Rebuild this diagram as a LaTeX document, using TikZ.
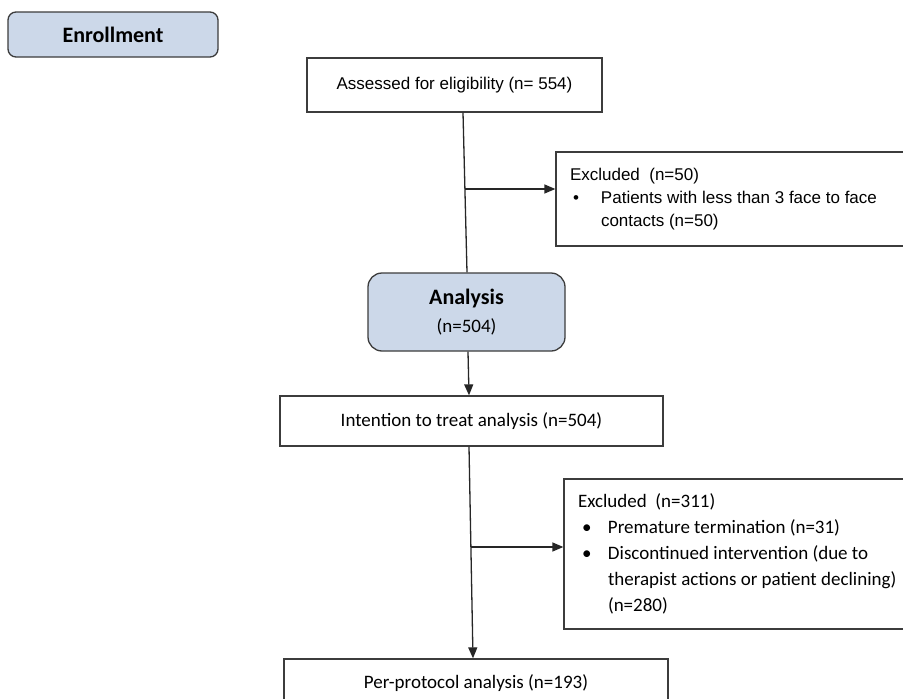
\documentclass[tikz,border=0pt]{standalone}
\usepackage{fontspec}
\setmainfont{Carlito}
\newfontfamily\arialfont{Liberation Sans}
\usetikzlibrary{arrows.meta,calc}
\definecolor{phaseblue}{HTML}{CCD8E9}
\definecolor{edgegray}{HTML}{3C3C3C}

\begin{document}
\begin{tikzpicture}[
    x=1pt, y=-1pt,
    phase/.style={draw=edgegray, line width=1.3pt, fill=phaseblue, rounded corners=14pt},
    stage/.style={draw=edgegray, line width=1.3pt, inner sep=0pt},
    exclbox/.style={stage, align=flush left, inner xsep=14pt},
    trunk/.style={line width=1.3pt, draw=black!85},
    flow/.style={trunk, -{Triangle[length=11pt,width=9pt]}},
    armfont/.style={font=\arialfont\fontsize{17}{23}\selectfont},
    calfont/.style={font=\fontsize{19}{26}\selectfont}
]
    \useasboundingbox (0,0) rectangle (903,699);

    % Phase headers
    \node[phase, rounded corners=8pt, minimum width=210pt, minimum height=45pt,
          font=\bfseries\fontsize{22}{26}\selectfont] (enroll) at (113,34.5) {Enrollment};
    \node[phase, minimum width=197pt, minimum height=78pt, calfont, align=center] (analysis) at (466.5,312)
        {{\bfseries\fontsize{22}{26}\selectfont Analysis}\\[2pt](n=504)};

    % Stages
    \node[stage, armfont, minimum width=295pt, minimum height=54pt] (assess) at (454.5,85)
        {Assessed for eligibility (n= 554)};
    \node[stage, calfont, minimum width=383pt, minimum height=50pt] (itt) at (471.5,421)
        {Intention to treat analysis (n=504)};
    \node[stage, calfont, minimum width=384pt, minimum height=48pt] (pp) at (476,683)
        {Per-protocol analysis (n=193)};

    % Exclusions
    \node[exclbox, armfont, text width=341pt, minimum height=94pt] (excla) at (740.5,199)
        {Excluded\ \ (n=50)\\
         \hspace*{3pt}\makebox[28pt][l]{\textbullet}Patients with less than 3 face to face\\
         \hspace*{31pt}contacts (n=50)};
    \node[exclbox, calfont, text width=333pt, minimum height=150pt] (exclb) at (744.5,554)
        {Excluded\ \ (n=311)\\
         \hspace*{4pt}\makebox[26pt][l]{\textbullet}Premature termination (n=31)\\
         \hspace*{4pt}\makebox[26pt][l]{\textbullet}Discontinued intervention (due to\\
         \hspace*{30pt}therapist actions or patient declining)\\
         \hspace*{30pt}(n=280)};

    % Connectors
    \coordinate (topa) at ([xshift=8.5pt]assess.south);
    \coordinate (bota) at ([xshift=0.5pt]analysis.north);
    \coordinate (forka) at ($(topa)!0.478!(bota)$);
    \draw[trunk] (topa) -- (bota);
    \draw[flow] (forka) -- (forka -| excla.west);

    \draw[flow] ([xshift=1.5pt]analysis.south) -- ([xshift=-2.5pt]itt.north);

    \coordinate (topb) at ([xshift=-2.5pt]itt.south);
    \coordinate (botb) at ([xshift=-3pt]pp.north);
    \coordinate (forkb) at ($(topb)!0.474!(botb)$);
    \draw[flow] (topb) -- (botb);
    \draw[flow] (forkb) -- (forkb -| exclb.west);
\end{tikzpicture}
\end{document}
